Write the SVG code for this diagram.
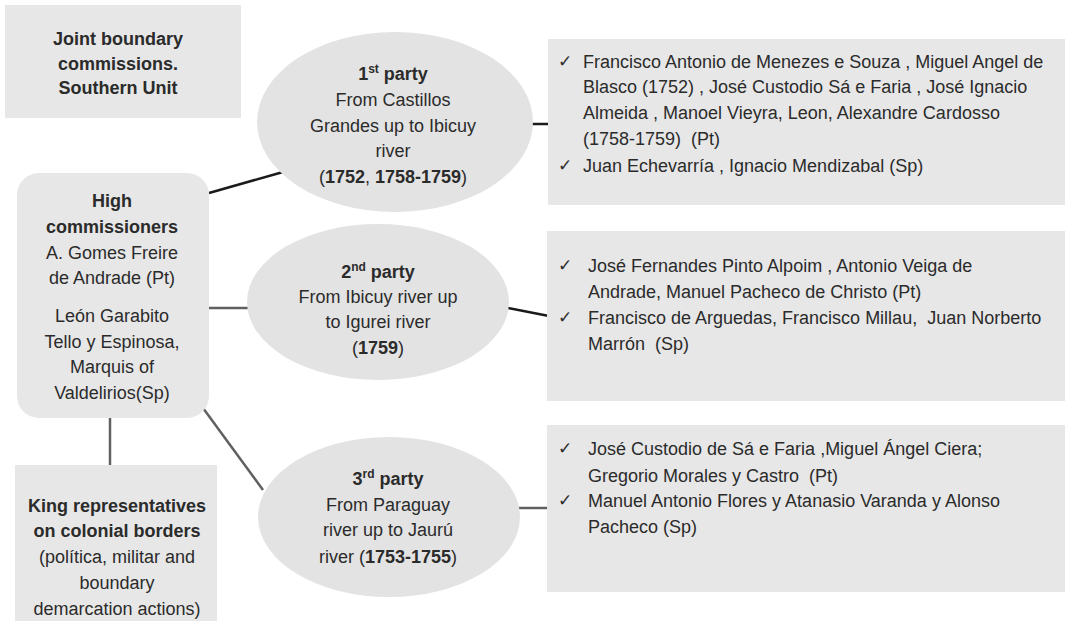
<svg xmlns="http://www.w3.org/2000/svg" width="1065" height="621" viewBox="0 0 1065 621">
<style>
text{font-family:"Liberation Sans",Arial,sans-serif;font-size:18px;fill:#2b2b2b;white-space:pre}
.c{text-anchor:middle}
.b{font-weight:bold}
.box{fill:#e7e7e7}
.ell{fill:#e3e3e3}
.dk{stroke:#1a1a1a;stroke-width:2.5;fill:none}
.gr{stroke:#606060;stroke-width:2.5;fill:none}
.sup{font-size:12px}
.ck{font-family:"DejaVu Sans",sans-serif;font-size:17px}
</style>
<rect width="1065" height="621" fill="#ffffff"/>
<g id="connectors">
<line class="dk" x1="209" y1="193" x2="283" y2="172"/>
<line class="dk" x1="530" y1="124" x2="549" y2="124"/>
<line class="gr" x1="200" y1="308" x2="248" y2="308"/>
<line class="dk" x1="508" y1="308" x2="549" y2="316"/>
<line class="gr" x1="110" y1="418" x2="110" y2="466"/>
<line class="gr" x1="203" y1="408" x2="263" y2="490"/>
<line class="gr" x1="518" y1="508" x2="549" y2="508"/>
</g>
<g id="title">
<rect class="box" x="5" y="5" width="236" height="113"/>
<text class="c b" x="118" y="45">Joint boundary</text>
<text class="c b" x="118" y="70">commissions.</text>
<text class="c b" x="118" y="94">Southern Unit</text>
</g>
<g id="high">
<rect class="box" x="17" y="173" width="192" height="245" rx="22"/>
<text class="c b" x="112" y="207">High</text>
<text class="c b" x="112" y="233">commissioners</text>
<text class="c" x="112" y="259">A. Gomes Freire</text>
<text class="c" x="112" y="284">de Andrade (Pt)</text>
<text class="c" x="112" y="322">León Garabito</text>
<text class="c" x="112" y="348">Tello y Espinosa,</text>
<text class="c" x="112" y="373">Marquis of</text>
<text class="c" x="112" y="399">Valdelirios(Sp)</text>
</g>
<g id="king">
<rect class="box" x="15" y="465" width="202" height="160"/>
<text class="c b" x="117" y="512">King representatives</text>
<text class="c b" x="117" y="537">on colonial borders</text>
<text class="c" x="117" y="563">(política, militar and</text>
<text class="c" x="117" y="589">boundary</text>
<text class="c" x="117" y="615">demarcation actions)</text>
</g>
<g id="party1">
<ellipse class="ell" cx="395" cy="122" rx="138" ry="90"/>
<text class="c" x="393" y="80"><tspan class="b">1</tspan><tspan class="b sup" dy="-7">st</tspan><tspan class="b" dy="7"> party</tspan></text>
<text class="c" x="393" y="106">From Castillos</text>
<text class="c" x="393" y="132">Grandes up to Ibicuy</text>
<text class="c" x="393" y="157">river</text>
<text class="c" x="393" y="183">(<tspan class="b">1752</tspan>, <tspan class="b">1758-1759</tspan>)</text>
</g>
<g id="party2">
<ellipse class="ell" cx="378" cy="302" rx="131" ry="78"/>
<text class="c" x="378" y="278"><tspan class="b">2</tspan><tspan class="b sup" dy="-7">nd</tspan><tspan class="b" dy="7"> party</tspan></text>
<text class="c" x="378" y="303">From Ibicuy river up</text>
<text class="c" x="378" y="328">to Igurei river</text>
<text class="c" x="378" y="354">(<tspan class="b">1759</tspan>)</text>
</g>
<g id="party3">
<ellipse class="ell" cx="389" cy="517" rx="131" ry="80"/>
<text class="c" x="388" y="485"><tspan class="b">3</tspan><tspan class="b sup" dy="-7">rd</tspan><tspan class="b" dy="7"> party</tspan></text>
<text class="c" x="388" y="511">From Paraguay</text>
<text class="c" x="388" y="536">river up to Jaurú</text>
<text class="c" x="388" y="563">river (<tspan class="b">1753-1755</tspan>)</text>
</g>
<g id="list1">
<rect class="box" x="548" y="39" width="517" height="166"/>
<text class="ck" x="558" y="67">✓</text>
<text x="583" y="68">Francisco Antonio de Menezes e Souza , Miguel Angel de</text>
<text x="583" y="93">Blasco (1752) , José Custodio Sá e Faria , José Ignacio</text>
<text x="583" y="119">Almeida , Manoel Vieyra, Leon, Alexandre Cardosso</text>
<text x="583" y="145">(1758-1759)  (Pt)</text>
<text class="ck" x="558" y="171">✓</text>
<text x="583" y="172">Juan Echevarría , Ignacio Mendizabal (Sp)</text>
</g>
<g id="list2">
<rect class="box" x="547" y="231" width="518" height="170"/>
<text class="ck" x="558" y="271">✓</text>
<text x="588" y="272">José Fernandes Pinto Alpoim , Antonio Veiga de</text>
<text x="588" y="298">Andrade, Manuel Pacheco de Christo (Pt)</text>
<text class="ck" x="558" y="323">✓</text>
<text x="588" y="324">Francisco de Arguedas, Francisco Millau,  Juan Norberto</text>
<text x="588" y="350">Marrón  (Sp)</text>
</g>
<g id="list3">
<rect class="box" x="547" y="425" width="518" height="167"/>
<text class="ck" x="558" y="454">✓</text>
<text x="588" y="455">José Custodio de Sá e Faria ,Miguel Ángel Ciera;</text>
<text x="588" y="482">Gregorio Morales y Castro  (Pt)</text>
<text class="ck" x="558" y="506">✓</text>
<text x="588" y="507">Manuel Antonio Flores y Atanasio Varanda y Alonso</text>
<text x="588" y="533">Pacheco (Sp)</text>
</g>
</svg>
